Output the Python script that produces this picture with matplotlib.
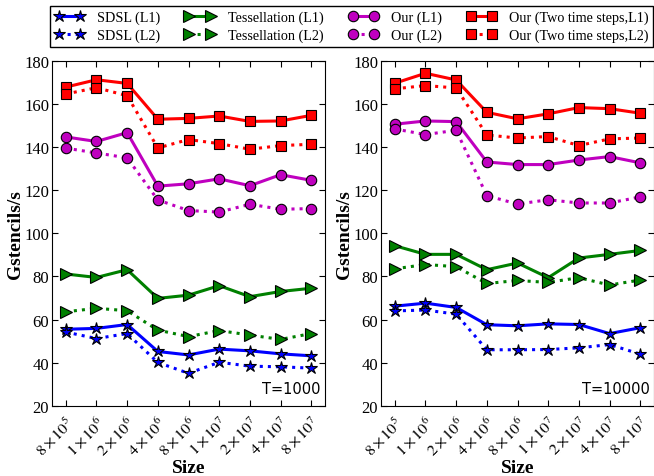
import matplotlib
matplotlib.use('Agg')
import matplotlib.pyplot as plt

plt.rcParams['font.family'] = ['Liberation Serif', 'DejaVu Serif']
plt.rcParams['mathtext.fontset'] = 'stix'

# x tick labels (problem sizes)
sizes = [r'$8\times10^5$', r'$1\times10^6$', r'$2\times10^6$', r'$4\times10^6$',
         r'$8\times10^6$', r'$1\times10^7$', r'$2\times10^7$', r'$4\times10^7$',
         r'$8\times10^7$']

# T=1000
sdsl_l1_a = [55.5, 55.9, 57.7, 45.2, 43.6, 46.3, 45.5, 44.1, 43.2]
sdsl_l2_a = [54.2, 51.2, 53.5, 40.1, 35.1, 40.2, 38.4, 38.1, 37.5]
tess_l1_a = [81.1, 79.5, 83.1, 69.8, 71.3, 75.7, 70.6, 73.0, 74.5]
tess_l2_a = [63.6, 65.2, 64.1, 55.1, 52.1, 54.9, 52.8, 50.8, 53.5]
our_l1_a = [144.6, 142.5, 146.6, 121.8, 122.9, 125.2, 122.0, 127.1, 124.5]
our_l2_a = [139.4, 137.2, 134.9, 115.4, 110.5, 109.8, 113.4, 111.1, 111.4]
two_l1_a = [167.7, 171.1, 169.4, 152.8, 153.2, 154.3, 151.8, 152.0, 154.6]
two_l2_a = [164.5, 167.4, 163.7, 139.5, 143.4, 141.5, 138.9, 140.6, 141.2]

# T=10000
sdsl_l1_b = [66.2, 67.6, 65.6, 57.6, 57.1, 58.0, 57.7, 53.5, 56.2]
sdsl_l2_b = [64.0, 64.4, 62.5, 46.0, 46.0, 46.1, 46.9, 48.4, 44.0]
tess_l1_b = [94.2, 90.2, 90.2, 83.1, 86.2, 79.4, 88.5, 90.2, 92.0]
tess_l2_b = [83.5, 85.5, 84.5, 76.7, 78.1, 77.2, 79.4, 76.0, 78.3]
our_l1_b = [150.5, 152.0, 151.7, 133.0, 131.8, 131.8, 133.9, 135.5, 132.6]
our_l2_b = [148.3, 145.7, 147.7, 117.4, 113.5, 115.5, 114.0, 114.0, 116.8]
two_l1_b = [169.5, 174.1, 171.0, 156.0, 153.0, 155.3, 158.2, 157.7, 155.6]
two_l2_b = [166.9, 168.4, 167.3, 145.5, 144.1, 144.8, 140.6, 143.7, 144.1]

labels = ['SDSL (L1)', 'SDSL (L2)', 'Tessellation (L1)', 'Tessellation (L2)',
          'Our (L1)', 'Our (L2)', 'Our (Two time steps,L1)', 'Our (Two time steps,L2)']
colors = ['blue', 'blue', 'green', 'green', 'm', 'm', 'red', 'red']
markers = ['*', '*', '>', '>', 'o', 'o', 's', 's']
msizes = [9, 9, 8, 8, 7.5, 7.5, 7.5, 7.5]
styles = ['-', ':', '-', ':', '-', ':', '-', ':']

data_a = [sdsl_l1_a, sdsl_l2_a, tess_l1_a, tess_l2_a, our_l1_a, our_l2_a, two_l1_a, two_l2_a]
data_b = [sdsl_l1_b, sdsl_l2_b, tess_l1_b, tess_l2_b, our_l1_b, our_l2_b, two_l1_b, two_l2_b]

fig = plt.figure(figsize=(6.54, 4.77), dpi=100)
ax1 = fig.add_axes([0.0795, 0.147, 0.4175, 0.724])
ax2 = fig.add_axes([0.5826, 0.147, 0.4174, 0.724])

x = list(range(len(sizes)))
handles = []
for ax, data, tag in [(ax1, data_a, 'T=1000'), (ax2, data_b, 'T=10000')]:
    for i in range(len(labels)):
        h, = ax.plot(x, data[i], linestyle=styles[i], color=colors[i], marker=markers[i],
                     markersize=msizes[i], markeredgecolor='black', markeredgewidth=0.8,
                     linewidth=2.2, label=labels[i])
        if ax is ax1:
            handles.append(h)
    ax.set_xlim(-0.45, 8.45)
    ax.set_ylim(20, 180)
    ax.set_xticks(x)
    ax.set_xticklabels(sizes, rotation=45, fontsize=11.5, ha='right', va='top',
                       rotation_mode='anchor')
    ax.set_yticks(range(20, 181, 20))
    ax.tick_params(axis='y', labelsize=12, pad=2)
    ax.tick_params(axis='x', pad=6)
    ax.tick_params(direction='in', top=True, right=True, length=4)
    ax.set_xlabel('Size', fontsize=14, fontweight='bold', labelpad=0)
    ax.set_ylabel('Gstencils/s', fontsize=14, fontweight='bold', labelpad=0)
    ax.text(0.985, 0.03, tag, transform=ax.transAxes, ha='right', va='bottom',
            fontsize=10.5, family='DejaVu Sans')

fig.legend(handles, labels, loc='upper left', bbox_to_anchor=(0.0765, 0.985),
           ncol=4, fontsize=10.2, numpoints=2, handlelength=2.1, columnspacing=1.75,
           handletextpad=0.9, fancybox=False, edgecolor='black', framealpha=1,
           borderpad=0.33, labelspacing=0.3, borderaxespad=0)

fig.savefig('out.png', dpi=100)
